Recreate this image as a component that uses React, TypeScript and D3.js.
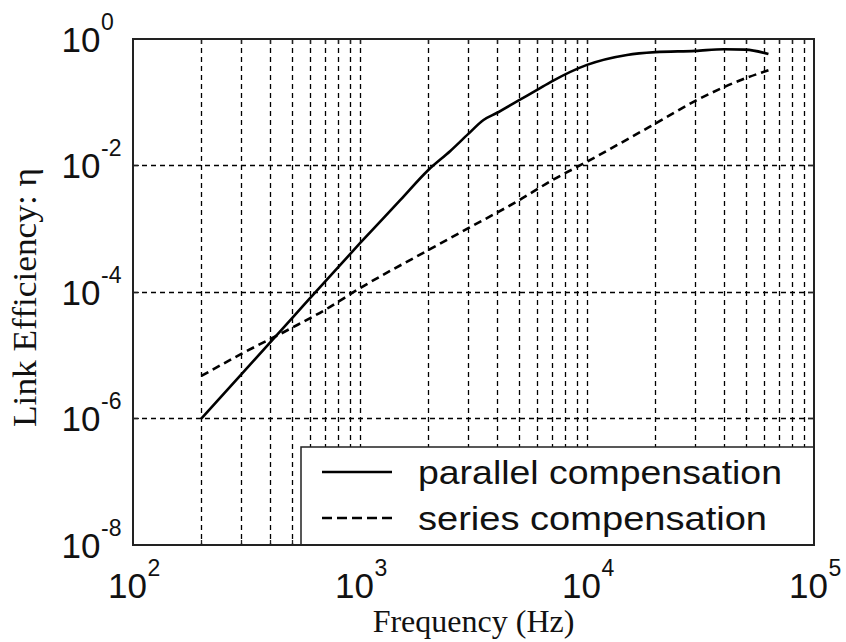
import React from "react";
import * as d3 from "d3";

const frequencies = [200, 300, 500, 700, 1000, 1500, 2000, 2500, 3000, 3500, 4000, 5000, 6000, 7000, 10000, 15000, 20000, 30000, 40000, 50000, 63000];
const parallelEff = [1.0e-6, 5.0e-6, 3.8e-5, 1.45e-4, 5.9e-4, 2.8e-3, 8.5e-3, 1.7e-2, 3.16e-2, 5.25e-2, 6.76e-2, 0.107, 0.155, 0.214, 0.39, 0.56, 0.62, 0.65, 0.69, 0.68, 0.58];

const seriesFreq = [200, 300, 500, 700, 1000, 2000, 3000, 5000, 7000, 10000, 20000, 30000, 50000, 63000];
const seriesEff = [4.7e-6, 1.05e-5, 2.7e-5, 5.2e-5, 1.15e-4, 4.6e-4, 1.02e-3, 2.8e-3, 5.8e-3, 1.15e-2, 4.6e-2, 0.105, 0.24, 0.32];

const xTickExps = [2, 3, 4, 5];
const yTickExps = [-8, -6, -4, -2, 0];
const legendLabels = ["parallel compensation", "series compensation"];
const xTitle = "Frequency (Hz)";
const yTitle = "Link Efficiency: \u03b7";

const W = 846, H = 642;
const L = 133, R = 814, T = 39, B = 545;
const SANS = "'Liberation Sans', Arial, Helvetica, sans-serif";
const SERIF = "'Liberation Serif', 'Times New Roman', serif";

const px = (v: number) => Math.round(v) + 0.5;

export default function App() {
  const x = d3.scaleLog().domain([1e2, 1e5]).range([L, R]);
  const y = d3.scaleLog().domain([1e-8, 1]).range([B, T]);

  const xGrid: number[] = [];
  for (let k = 2; k <= 4; k++) {
    for (let m = 1; m <= 9; m++) {
      const v = m * Math.pow(10, k);
      if (v > 100 && v < 1e5) xGrid.push(v);
    }
  }
  const yGrid = yTickExps.filter((e) => e > -8 && e < 0).map((e) => Math.pow(10, e));

  const line = d3
    .line<[number, number]>()
    .x((d) => x(d[0]))
    .y((d) => y(d[1]))
    .curve(d3.curveMonotoneX);

  const pPath = line(frequencies.map((f, i) => [f, parallelEff[i]]) as [number, number][]) || "";
  const sPath = line(seriesFreq.map((f, i) => [f, seriesEff[i]]) as [number, number][]) || "";

  const lg = { x0: 301, y0: 447, x1: R, y1: B };

  return (
    <svg width={W} height={H} style={{ position: "fixed", left: 0, top: 0, background: "#fff" }}>
      <rect x={0} y={0} width={W} height={H} fill="#fff" />
      {/* grid */}
      <g stroke="#000" strokeWidth={1.3} strokeDasharray="5,4" fill="none">
        {xGrid.map((v) => (
          <line key={"gx" + v} x1={px(x(v))} x2={px(x(v))} y1={T} y2={B} />
        ))}
        {yGrid.map((v) => (
          <line key={"gy" + v} x1={L} x2={R} y1={px(y(v))} y2={px(y(v))} />
        ))}
      </g>
      {/* ticks */}
      <g stroke="#222" strokeWidth={1.3}>
        {xGrid.map((v) => (
          <g key={"tx" + v}>
            <line x1={px(x(v))} x2={px(x(v))} y1={T} y2={T + 5} />
            <line x1={px(x(v))} x2={px(x(v))} y1={B} y2={B - 5} />
          </g>
        ))}
        {yGrid.map((v) => (
          <g key={"ty" + v}>
            <line x1={L} x2={L + 6} y1={px(y(v))} y2={px(y(v))} />
            <line x1={R} x2={R - 6} y1={px(y(v))} y2={px(y(v))} />
          </g>
        ))}
      </g>
      {/* curves */}
      <path d={pPath} fill="none" stroke="#000" strokeWidth={2.6} />
      <path d={sPath} fill="none" stroke="#000" strokeWidth={2.6} strokeDasharray="8,5" />
      {/* legend */}
      <rect x={lg.x0} y={lg.y0} width={lg.x1 - lg.x0} height={lg.y1 - lg.y0} fill="#fff" stroke="#222" strokeWidth={1.5} />
      <line x1={322} x2={392} y1={472} y2={472} stroke="#000" strokeWidth={2.4} />
      <line x1={322} x2={392} y1={518} y2={518} stroke="#000" strokeWidth={2.4} strokeDasharray="10,5" />
      <text x={418} y={484} fontFamily={SANS} fontSize={34} fill="#111" textLength={364} lengthAdjust="spacingAndGlyphs">{legendLabels[0]}</text>
      <text x={418} y={530} fontFamily={SANS} fontSize={34} fill="#111" textLength={349} lengthAdjust="spacingAndGlyphs">{legendLabels[1]}</text>
      {/* axes box */}
      <rect x={L} y={T} width={R - L} height={B - T} fill="none" stroke="#222" strokeWidth={2} />
      {/* y tick labels */}
      {yTickExps.map((e) => {
        const yy = y(Math.pow(10, e));
        return (
          <g key={"yl" + e} fill="#111" fontFamily={SANS}>
            <text x={100.5} y={yy + 12.5} fontSize={35} textAnchor="end">10</text>
            <text x={101} y={yy - 9.5} fontSize={23} textAnchor="start">{String(e)}</text>
          </g>
        );
      })}
      {/* x tick labels */}
      {xTickExps.map((e) => {
        const xx = x(Math.pow(10, e));
        return (
          <g key={"xl" + e} fill="#111" fontFamily={SANS}>
            <text x={xx + 14} y={598} fontSize={35} textAnchor="end">10</text>
            <text x={xx + 14.5} y={576} fontSize={23} textAnchor="start">{String(e)}</text>
          </g>
        );
      })}
      {/* titles */}
      <text x={(L + R) / 2} y={632} fontFamily={SERIF} fontSize={32} textAnchor="middle" fill="#111">{xTitle}</text>
      <text transform={`translate(36, ${(168 + 427) / 2}) rotate(-90)`} fontFamily={SERIF} fontSize={33} textAnchor="middle" fill="#111" textLength={259} lengthAdjust="spacingAndGlyphs">{yTitle}</text>
    </svg>
  );
}
